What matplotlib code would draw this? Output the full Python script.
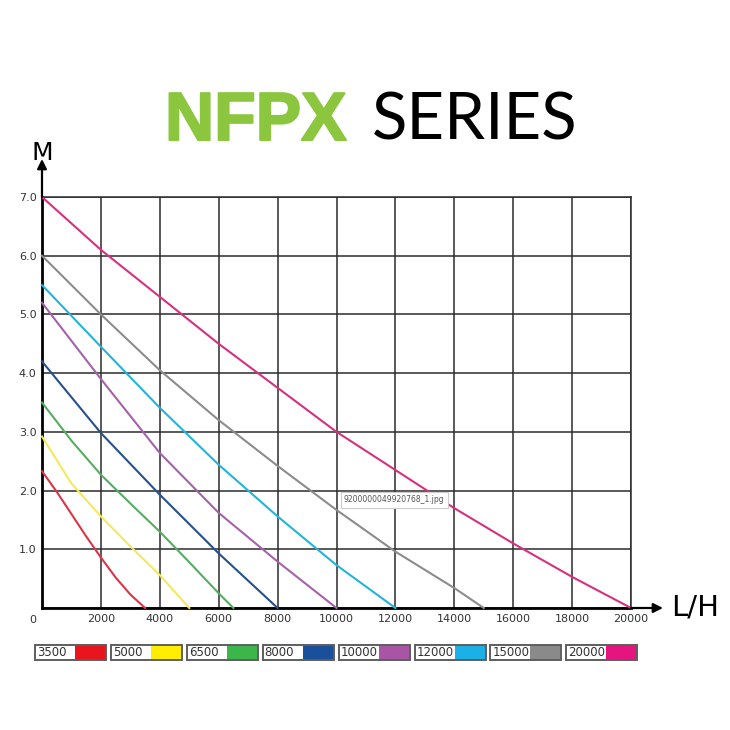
import matplotlib
matplotlib.use("Agg")
import matplotlib.pyplot as plt
import matplotlib.patheffects as pe
from matplotlib.patches import Rectangle

# pump models (max flow L/H) and their colours
modelle = ["3500", "5000", "6500", "8000", "10000", "12000", "15000", "20000"]
farben = ["#e8141e", "#ffed00", "#3cb54a", "#1a4f9c", "#a855a5", "#1bb1e6", "#8a8a8a", "#e5147f"]
linien_farben = ["#d9364a", "#f2ea5c", "#55ad62", "#27508c", "#a463a8", "#22b4da", "#8c8c8c", "#d6307f"]

# curves: flow (L/H) -> head (M)
akis = [
    [0, 500, 1000, 1500, 2000, 2500, 3000, 3500],
    [0, 1000, 2000, 3000, 4000, 5000],
    [0, 1000, 2000, 3000, 4000, 5000, 6000, 6500],
    [0, 2000, 4000, 6000, 8000],
    [0, 2000, 4000, 6000, 8000, 10000],
    [0, 2000, 4000, 6000, 8000, 10000, 12000],
    [0, 2000, 4000, 6000, 8000, 10000, 12000, 14000, 15000],
    [0, 2000, 4000, 6000, 8000, 10000, 12000, 14000, 16000, 18000, 20000],
]
yukseklik = [
    [2.33, 1.98, 1.6, 1.22, 0.86, 0.52, 0.23, 0.0],
    [2.92, 2.12, 1.56, 1.05, 0.56, 0.0],
    [3.5, 2.85, 2.27, 1.78, 1.3, 0.78, 0.25, 0.0],
    [4.2, 2.98, 1.93, 0.93, 0.0],
    [5.2, 3.9, 2.64, 1.62, 0.79, 0.0],
    [5.5, 4.45, 3.41, 2.44, 1.56, 0.73, 0.0],
    [6.0, 5.0, 4.05, 3.2, 2.42, 1.67, 0.96, 0.34, 0.0],
    [7.0, 6.1, 5.3, 4.5, 3.75, 3.0, 2.35, 1.7, 1.1, 0.53, 0.0],
]

x_ticks = list(range(0, 20001, 2000))
y_ticks = [0, 1, 2, 3, 4, 5, 6, 7]

W = 730.0


def fx(px):
    return px / W


def fy(py):
    return 1 - py / W


fig = plt.figure(figsize=(7.3, 7.3), dpi=100)
fig.patch.set_facecolor("white")

ax = fig.add_axes([fx(42), fy(608), 589 / W, 411 / W])
ax.set_xlim(0, 20000)
ax.set_ylim(0, 7)
ax.set_xticks(x_ticks)
ax.set_yticks(y_ticks)
ax.set_xticklabels([""] + [str(v) for v in x_ticks[1:]])
ax.set_yticklabels([""] + [f"{v:.1f}" for v in y_ticks[1:]])
ax.tick_params(length=0, labelsize=8, labelcolor="#333333", pad=4)
ax.grid(True, color="#2b2b2b", linewidth=1.1)
ax.set_axisbelow(True)
for s in ["top", "right"]:
    ax.spines[s].set_color("#2b2b2b")
    ax.spines[s].set_linewidth(1.1)
for s in ["left", "bottom"]:
    ax.spines[s].set_color("black")
    ax.spines[s].set_linewidth(2.0)

for xs, ys, c in zip(akis, yukseklik, linien_farben):
    ax.plot(xs, ys, color=c, linewidth=1.5, clip_on=False, zorder=3,
            solid_joinstyle="round")

ax.annotate("0", xy=(0, 0), xytext=(-9, -12), textcoords="offset pixels",
            ha="center", va="center", fontsize=8, color="#333333")

# axis arrows
ax.annotate("", xy=(0, 1 + 38 / 411), xytext=(0, 1), xycoords="axes fraction",
            arrowprops=dict(arrowstyle="-|>", color="black", lw=1.6,
                            mutation_scale=14, shrinkA=0, shrinkB=0))
ax.annotate("", xy=(1 + 32 / 589, 0), xytext=(1, 0), xycoords="axes fraction",
            arrowprops=dict(arrowstyle="-|>", color="black", lw=1.6,
                            mutation_scale=14, shrinkA=0, shrinkB=0))

fig.text(fx(42), fy(153), "M", fontsize=18, ha="center", va="center", color="black")
fig.text(fx(695), fy(608), "L/H", fontsize=21, ha="center", va="center", color="black")

# title
fig.text(fx(165), fy(140), "NFPX", fontsize=49, fontweight="bold", color="#8cc63f",
         family="Liberation Sans", ha="left", va="baseline",
         path_effects=[pe.withStroke(linewidth=1.5, foreground="#8cc63f")])
fig.text(fx(372), fy(140), "SERIES", fontsize=47, color="black",
         family="Lato", ha="left", va="baseline")

# file-name tooltip from the screenshot
fig.text(fx(344), fy(500), "9200000049920768_1.jpg", fontsize=5.5, color="#555555",
         ha="left", va="center",
         bbox=dict(boxstyle="square,pad=0.4", facecolor="white", edgecolor="#cccccc", lw=0.8))

# legend strip
lax = fig.add_axes([0, 0, 1, 1], facecolor="none")
lax.set_xlim(0, W)
lax.set_ylim(W, 0)
lax.axis("off")
for i, (m, c) in enumerate(zip(modelle, farben)):
    x0 = 35 + i * 75.9
    lax.add_patch(Rectangle((x0 + 40, 645), 31, 15, facecolor=c, edgecolor="none"))
    lax.add_patch(Rectangle((x0, 645), 71, 15, facecolor="none", edgecolor="#5e5e5e", lw=1.4))
    lax.text(x0 + 2, 652.5, m, fontsize=8.5, color="#333333", ha="left", va="center")

fig.savefig("out.png", dpi=100, facecolor="white")
